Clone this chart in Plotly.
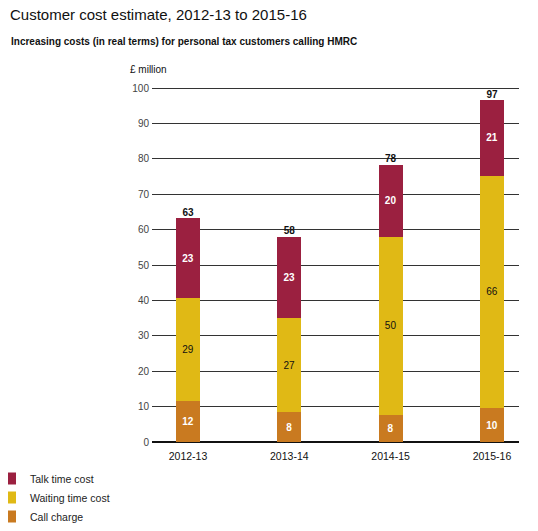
import plotly.graph_objects as go

years = ["2012-13", "2013-14", "2014-15", "2015-16"]
call_charge = [11.5, 8.4, 7.7, 9.6]
waiting_cost = [29.1, 26.5, 50.3, 65.6]
talk_cost = [22.6, 23.1, 20.3, 21.4]
call_labels = ["12", "8", "8", "10"]
waiting_labels = ["29", "27", "50", "66"]
talk_labels = ["23", "23", "20", "21"]
total_labels = ["63", "58", "78", "97"]
y_ticks = [0, 10, 20, 30, 40, 50, 60, 70, 80, 90, 100]

C_TALK = "#9b2040"
C_WAIT = "#e0b915"
C_CALL = "#c97a20"
FONT = "Liberation Sans, Arial, sans-serif"

# the page body has an 8px margin; work in reference pixels and shift
OFF = 8
W, H = 538 - OFF, 531 - OFF
PL, PR, PT, PB = 152, 519, 87, 442   # plot area in reference pixels
L, R, T, B = PL - OFF, W - (PR - OFF), PT - OFF, H - (PB - OFF)
pw = W - L - R
ph = H - T - B

def px_x(p):
    return (p - OFF - L) / pw

def px_y(p):
    return (H - B - (p - OFF)) / ph

fig = go.Figure()
bw = 0.237
fig.add_trace(go.Bar(x=years, y=call_charge, name="Call charge", marker_color=C_CALL,
                     marker_line_width=0, width=bw, text=call_labels, textposition="inside",
                     insidetextanchor="middle", textangle=0,
                     textfont=dict(color="white", size=10, family=FONT, weight="bold"),
                     hoverinfo="skip"))
fig.add_trace(go.Bar(x=years, y=waiting_cost, name="Waiting time cost", marker_color=C_WAIT,
                     marker_line_width=0, width=bw, text=waiting_labels, textposition="inside",
                     insidetextanchor="middle", textangle=0,
                     textfont=dict(color="#111111", size=10, family=FONT),
                     hoverinfo="skip"))
fig.add_trace(go.Bar(x=years, y=talk_cost, name="Talk time cost", marker_color=C_TALK,
                     marker_line_width=0, width=bw, text=talk_labels, textposition="inside",
                     insidetextanchor="middle", textangle=0,
                     textfont=dict(color="white", size=10, family=FONT, weight="bold"),
                     hoverinfo="skip"))
totals = [a + b + c for a, b, c in zip(call_charge, waiting_cost, talk_cost)]
fig.add_trace(go.Scatter(x=years, y=totals, mode="text", text=total_labels,
                         textposition="top center", showlegend=False,
                         textfont=dict(color="#111111", size=10, family=FONT, weight="bold"),
                         hoverinfo="skip"))

fig.update_layout(
    width=W, height=H,
    margin=dict(l=L, r=R, t=T, b=B, pad=0, autoexpand=False),
    barmode="stack",
    plot_bgcolor="white", paper_bgcolor="white",
    font=dict(family=FONT, size=11, color="#111111"),
    showlegend=True,
    legend=dict(traceorder="reversed", orientation="v",
                x=px_x(-10), xanchor="left", y=px_y(464), yanchor="top",
                font=dict(size=10.5, family=FONT, color="#222222"),
                bgcolor="rgba(0,0,0,0)", borderwidth=0, itemwidth=30,
                tracegroupgap=0),
    xaxis=dict(type="category", range=[-0.355, 3.267], showgrid=False, showline=False,
               zeroline=False, ticks="", tickfont=dict(size=10.5, color="#111111"),
               ticklabelstandoff=6, fixedrange=True),
    yaxis=dict(range=[0, 100.3], tickvals=y_ticks, showgrid=True, gridcolor="#333333",
               gridwidth=1, zeroline=True, zerolinecolor="#111111", zerolinewidth=2,
               showline=False, ticks="", tickfont=dict(size=10, color="#444444"),
               ticklabelstandoff=2, fixedrange=True),
    annotations=[
        dict(text="Customer cost estimate, 2012-13 to 2015-16", xref="paper", yref="paper",
             x=px_x(8), y=px_y(14), xanchor="left", yanchor="middle", showarrow=False,
             font=dict(size=15, family=FONT, color="#111111")),
        dict(text="<b>Increasing costs (in real terms) for personal tax customers calling HMRC</b>",
             xref="paper", yref="paper", x=px_x(9), y=px_y(42), xanchor="left",
             yanchor="middle", showarrow=False,
             font=dict(size=10, family=FONT, color="#111111")),
        dict(text="£ million", xref="paper", yref="paper", x=px_x(128), y=px_y(69),
             xanchor="left", yanchor="middle", showarrow=False,
             font=dict(size=10, family=FONT, color="#111111")),
    ],
)

fig.write_html("out.html")
